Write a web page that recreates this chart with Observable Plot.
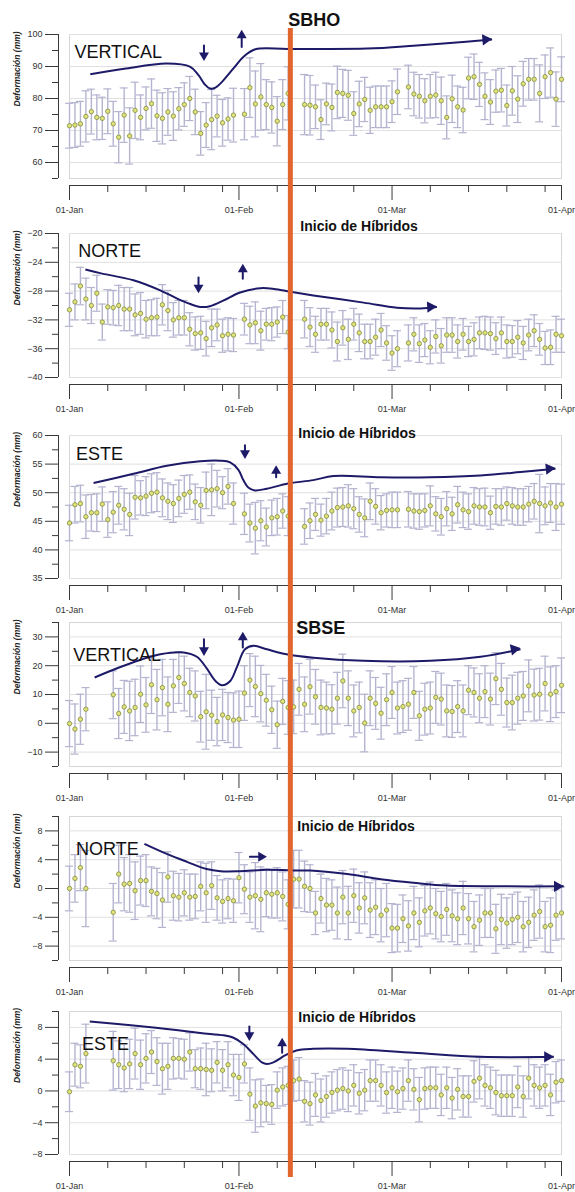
<!DOCTYPE html>
<html><head><meta charset="utf-8">
<script src="https://cdn.jsdelivr.net/npm/d3@7"></script>
<script src="https://cdn.jsdelivr.net/npm/@observablehq/plot@0.6"></script>
<style>
body{margin:0;background:#fff;width:575px;}
#chart svg{display:block;}
</style></head><body><div id="chart"></div>
<script>
// ---------- data ----------
const YEAR = 2019;
const monthTickDays = [0, 31, 59, 90];
const weekTickDays = [7, 14, 21, 28, 38, 45, 52, 66, 73, 80, 87];
const hybridDay = 40.4;
const hybridLabel = "Inicio de Híbridos";
const yTitle = "Deformación (mm)";

const sbhoVerticalValues = [71.5,71.7,72.1,74.4,75.9,74.1,73.8,76.0,72.1,67.9,
 74.8,68.3,76.3,74.1,76.9,78.4,74.6,73.8,75.8,74.5,
 76.8,78.1,80.0,75.8,69.1,71.7,73.4,74.5,72.4,73.6,
 74.8,null,75.1,83.4,78.3,80.5,78.1,77.2,72.9,78.1,
 81.6,null,null,78.1,77.9,77.4,73.4,78.3,77.2,81.9,
 81.6,81.0,75.3,78.3,79.7,76.3,77.4,77.4,77.4,79.0,
 82.1,null,83.6,81.4,80.7,79.3,80.7,81.1,79.3,74.1,
 79.9,77.4,76.4,86.4,86.8,84.4,80.7,78.9,82.3,82.6,
 77.8,82.4,79.8,84.6,86.0,86.0,81.6,86.8,88.1,79.8,
 86.0];
const sbhoVerticalErrors = [7.0,7.0,7.0,8.0,7.0,7.0,6.6,7.0,7.0,8.0,
 8.5,8.8,8.8,7.0,6.7,7.7,8.0,8.0,7.3,7.6,
 6.6,6.8,6.9,7.1,6.8,7.0,9.4,6.5,7.3,6.6,
 8.4,null,8.0,9.3,10.3,10.4,7.8,8.0,7.7,7.8,
 8.3,null,null,9.4,9.3,6.8,6.2,6.5,7.3,8.2,
 7.5,7.8,6.8,7.1,6.9,7.2,6.5,6.5,6.5,6.5,
 7.1,null,6.8,6.8,6.8,6.9,6.8,7.1,7.4,6.7,
 7.4,6.5,7.1,6.5,7.1,6.9,7.3,7.0,6.6,6.8,
 6.4,7.6,7.3,7.0,6.5,6.5,8.9,6.8,7.7,8.5,
 7.0];

const sbhoNorteValues = [-30.6,-29.5,-27.3,-29.1,-30.0,-28.3,-32.3,-30.2,-30.3,-30.0,
 -30.5,-30.5,-31.3,-31.1,-31.9,-31.7,-31.6,-29.9,-30.7,-32.0,
 -31.7,-31.7,-33.3,-33.9,-33.8,-34.6,-33.1,-32.7,-34.2,-34.0,
 -34.1,null,-31.9,-32.7,-32.4,-33.5,-32.6,-32.6,-32.3,-31.6,
 -33.7,null,null,-31.9,-33.0,-34.0,-32.6,-32.6,-33.4,-35.0,
 -33.1,-34.7,-32.6,-33.8,-35.0,-35.0,-34.4,-33.4,-35.2,-36.6,
 -36.0,null,-35.2,-34.0,-35.3,-34.8,-35.8,-34.3,-35.6,-34.1,
 -34.1,-35.0,-34.0,-35.0,-34.7,-33.8,-33.8,-33.9,-34.6,-33.8,
 -35.0,-35.0,-34.4,-35.2,-34.1,-33.5,-34.7,-35.9,-35.8,-34.0,
 -34.2];
const sbhoNorteErrors = [2.3,2.5,2.6,2.9,2.5,2.5,2.5,2.4,2.4,2.8,
 3.0,3.0,2.9,2.9,2.6,2.5,2.6,2.8,2.8,2.4,
 2.4,2.4,2.3,2.3,2.3,2.4,2.6,2.2,2.3,2.3,
 2.3,null,2.2,2.6,2.9,2.7,2.2,2.3,2.1,2.3,
 2.3,null,null,2.6,2.7,2.5,2.2,2.2,2.5,2.7,
 2.4,2.8,2.2,2.6,2.4,2.4,2.5,2.3,2.4,2.4,
 2.5,null,2.5,2.3,2.6,2.3,2.3,2.3,2.4,2.4,
 2.4,2.3,2.2,2.1,2.3,2.2,2.3,2.3,2.2,2.2,
 2.3,2.2,2.3,2.3,2.2,2.2,2.2,2.3,2.4,2.5,
 2.3];

const sbhoEsteValues = [44.7,47.9,48.1,45.8,46.5,46.5,48.0,45.3,46.6,47.8,
 47.1,46.2,49.2,49.1,49.4,49.9,50.1,49.1,48.5,48.1,
 49.0,49.7,50.1,48.4,47.8,50.4,50.5,50.7,50.0,51.1,
 48.1,null,46.3,44.7,43.8,45.1,44.0,45.6,45.8,46.8,
 45.9,null,null,44.1,45.1,46.2,45.2,45.9,46.8,47.4,
 47.5,47.7,47.2,46.2,45.6,48.5,47.6,46.5,46.9,47.0,
 47.0,null,47.1,46.8,46.7,46.9,47.7,46.3,45.8,47.2,
 46.3,47.9,47.0,46.7,47.7,47.5,47.5,46.5,47.6,47.5,
 48.1,47.7,47.5,47.5,48.0,48.5,48.1,47.7,48.2,47.5,
 48.0];
const sbhoEsteErrors = [3.1,3.2,3.2,3.8,3.2,3.3,3.0,3.1,3.6,3.3,
 3.6,3.7,3.8,3.0,3.4,3.4,3.4,3.3,3.2,3.3,
 3.2,3.3,3.0,3.1,3.1,3.2,4.5,3.2,2.8,3.1,
 3.6,null,3.6,3.3,4.5,3.5,3.3,3.1,3.2,3.0,
 3.4,null,null,3.1,3.1,2.8,2.8,3.1,3.3,3.4,
 3.4,3.7,3.5,3.1,3.3,3.2,3.1,3.0,2.9,3.1,
 3.1,null,3.1,3.0,3.1,2.9,3.5,3.0,3.2,3.0,
 2.9,3.2,3.1,3.1,3.2,3.2,3.3,2.9,3.1,3.2,
 2.9,3.2,3.2,3.2,3.1,3.1,5.1,3.3,3.4,4.1,
 3.5];

const sbseVerticalValues = [-0.1,-2.0,1.4,4.9,null,null,null,null,9.9,3.4,
 5.7,4.3,5.5,10.1,6.4,13.4,8.2,12.4,6.6,13.0,
 15.9,13.8,10.7,9.5,2.3,4.0,2.8,0.6,2.9,2.0,
 1.1,1.4,10.5,15.0,12.8,10.3,8.0,4.7,-0.5,7.6,
 5.5,5.7,11.8,6.6,12.7,9.2,5.5,5.3,4.9,8.7,
 14.7,8.7,4.3,5.5,0.1,8.7,6.9,3.5,8.2,10.7,
 5.3,5.8,6.6,10.7,2.6,4.9,5.3,9.0,8.4,4.3,
 4.1,5.8,4.3,11.5,10.7,8.7,11.0,8.4,15.5,11.8,
 7.2,7.2,8.7,9.5,13.0,9.8,10.1,13.8,10.1,11.0,
 13.2];
const sbseVerticalErrors = [8.0,8.7,8.7,7.5,null,null,null,null,8.3,8.7,
 9.2,10.3,9.8,9.8,9.5,10.0,10.5,9.8,9.5,9.2,
 9.0,9.5,8.4,8.7,8.8,13.0,8.7,8.4,8.9,8.7,
 9.5,9.8,9.5,9.2,10.5,9.8,9.0,8.2,8.2,8.0,
 9.3,9.3,9.0,9.5,9.5,9.5,9.5,9.0,8.5,9.0,
 9.3,9.5,9.0,8.8,10.0,9.5,9.0,9.0,9.0,9.0,
 9.0,9.0,9.0,9.0,8.5,9.0,9.0,9.0,9.0,9.0,
 9.0,9.0,9.0,8.5,8.5,8.5,9.0,9.0,9.0,9.0,
 8.5,9.5,9.0,8.5,9.0,9.0,9.0,9.5,9.5,9.0,
 9.5];

const sbseNorteValues = [0.0,1.4,2.9,0.0,null,null,null,null,-3.3,2.0,
 0.6,0.7,-0.3,1.1,1.1,-0.4,-0.7,-1.6,1.6,-1.0,
 -1.2,-0.6,-1.2,-1.1,0.3,-0.6,0.4,-1.3,-1.8,-1.4,
 -1.7,1.5,-0.1,-1.2,-1.0,-1.5,-0.6,-0.8,-0.6,-1.1,
 -2.2,1.3,1.3,0.3,0.0,-3.4,-1.4,-2.3,-2.3,-3.4,
 -1.2,-3.4,-1.0,-2.7,-1.3,-3.0,-2.6,-3.7,-3.0,-5.5,
 -5.5,-4.2,-5.2,-3.4,-4.7,-3.1,-2.7,-3.5,-3.9,-2.9,
 -3.8,-4.2,-2.7,-4.2,-5.3,-4.4,-3.4,-3.4,-5.6,-4.3,
 -4.8,-4.3,-4.0,-5.3,-4.7,-3.7,-3.2,-5.3,-5.1,-3.7,
 -3.4];
const sbseNorteErrors = [3.1,3.3,3.2,5.3,null,null,null,null,4.0,4.0,
 3.7,4.0,4.0,3.4,3.6,3.4,3.5,3.8,3.5,3.4,
 3.3,3.2,3.2,3.1,3.4,4.1,3.3,3.1,3.0,2.8,
 3.0,3.5,3.4,3.5,4.6,4.5,3.3,3.3,3.5,3.4,
 3.4,4.0,4.0,3.5,3.3,3.0,3.4,3.7,3.5,3.6,
 3.7,3.7,3.7,3.5,3.6,3.8,3.8,3.7,3.7,3.4,
 3.3,3.3,3.5,3.7,3.4,3.5,3.6,3.5,3.5,3.6,
 3.6,3.6,3.7,3.5,3.5,3.5,3.4,3.4,3.4,3.5,
 3.5,3.5,3.5,3.5,3.5,3.5,3.7,3.5,3.8,3.5,
 3.6];

const sbseEsteValues = [-0.1,3.3,3.1,4.7,null,null,null,null,3.8,3.3,
 2.9,3.4,4.7,3.3,4.1,4.9,3.7,2.8,3.1,4.1,
 4.1,4.0,4.9,2.8,2.8,2.7,2.6,3.6,2.6,3.3,
 2.0,1.7,3.4,-0.4,-1.9,-1.5,-1.6,-1.7,0.1,0.5,
 0.7,1.3,1.5,-1.3,-1.6,-0.5,-1.2,-0.7,-0.2,0.1,
 0.3,0.0,0.7,-0.3,0.1,1.3,1.3,0.7,-0.2,0.4,
 -0.1,0.3,1.3,0.2,-1.1,0.3,0.4,0.4,-0.5,0.4,
 -0.9,0.2,-0.7,-0.7,1.2,1.6,0.7,0.4,-0.2,-0.6,
 -0.6,-0.6,0.5,-0.7,1.6,0.7,0.4,0.7,-0.5,1.1,
 1.3];
const sbseEsteErrors = [2.5,2.7,2.7,3.7,null,null,null,null,3.7,3.0,
 3.0,3.1,3.2,3.1,3.1,2.7,3.0,3.2,2.9,2.6,
 2.5,2.5,2.4,2.4,2.6,3.3,2.7,2.6,2.6,2.9,
 2.6,2.9,2.4,3.3,3.3,3.0,2.3,2.5,2.3,2.4,
 2.4,2.6,2.7,2.6,2.7,2.7,2.7,2.6,2.6,2.6,
 2.6,2.6,2.6,2.6,2.6,2.6,2.6,2.6,2.6,2.6,
 2.6,2.6,2.6,2.6,2.8,2.6,2.6,2.6,2.6,2.6,
 2.6,2.6,2.6,2.6,2.6,2.6,2.6,2.6,2.8,2.6,
 2.6,2.6,2.6,2.6,2.6,2.6,2.6,2.6,2.6,2.6,
 2.6];

// hand-drawn trend curves: [day, value]
const sbhoVerticalTrend = [[3.8,87.6],[10,89.3],[17.8,90.9],[22.1,89.9],[23.6,87.3],[24.8,84.3],[25.7,83.1],[26.7,83.4],[27.9,85.2],[30,89.4],[31.8,93.0],[34,95.4],[40,95.5],[54.4,95.6],[62.9,96.5],[69,97.3],[77.3,98.4]];
const sbhoNorteTrend = [[2.9,-25.0],[5.6,-25.5],[11.7,-26.5],[16.6,-27.9],[19.6,-29.0],[22.1,-29.8],[23.9,-30.2],[25.7,-30.1],[28.2,-29.3],[31.2,-28.2],[34.9,-27.6],[37.4,-27.7],[40.4,-28.1],[44.6,-28.6],[53.8,-29.6],[59.9,-30.3],[64.2,-30.4],[67.2,-30.2]];
const sbhoEsteTrend = [[4.4,51.7],[11.7,53.3],[17.8,54.7],[23.9,55.5],[27.6,55.6],[29.4,55.3],[30.9,54.0],[31.8,52.2],[32.7,50.9],[33.9,50.4],[36.1,50.7],[40,51.6],[44.6,52.2],[48.3,52.9],[56.9,52.7],[66,52.7],[75.2,53.0],[82.5,53.6],[88.9,54.2]];
const sbseVerticalTrend = [[4.6,15.9],[8.7,19.1],[12.9,22.0],[16.6,24.0],[20.9,24.6],[23.3,23.1],[25.1,19.1],[26.7,14.7],[27.9,13.2],[29.4,14.7],[30.6,19.4],[32.1,25.7],[33.7,26.9],[36.1,25.7],[39.7,24.0],[44.6,22.8],[53.8,21.7],[66,21.7],[75.2,23.1],[82.5,25.7]];
const sbseNorteTrend = [[13.7,6.2],[17.8,4.8],[21.5,3.7],[25.1,2.7],[27.6,2.4],[31.2,2.4],[36.1,2.6],[42,2.5],[44,2.5],[50.8,2.0],[56.9,1.3],[62.9,0.8],[69,0.4],[80,0.3],[90.4,0.3]];
const sbseEsteTrend = [[3.7,8.75],[11.7,8.25],[17.8,7.8],[23.9,7.3],[28.2,7.0],[30,6.7],[31.8,5.9],[33.7,4.6],[35.2,3.6],[36.1,3.4],[37.3,3.6],[39.5,4.5],[41.5,5.1],[44.6,5.3],[50.8,5.3],[62.9,4.8],[75.2,4.3],[88.6,4.3]];

// small marker arrows: [day, from value, tip value]
const sbhoVerticalDown = [[24.6, 96.6, 91.7]], sbhoVerticalUp = [[31.5, 96.1, 101.5]];
const sbhoNorteDown = [[23.6, -26.1, -28.3]], sbhoNorteUp = [[31.7, -26.3, -24.2]];
const sbhoEsteDown = [[32.1, 58.3, 55.9]], sbhoEsteUp = [[37.8, 52.7, 54.8]];
const sbseVerticalDown = [[24.6, 29.2, 23.4]], sbseVerticalUp = [[31.7, 26.3, 31.8]];
const sbseNorteRight = [[4.4, 33, 36.1]]; // [value, from day, tip day]
const sbseEsteDown = [[32.9, 8.1, 6.3]], sbseEsteUp = [[38.9, 4.8, 6.7]];

// ---------- drawing ----------
const dayDate = d => new Date(Date.UTC(YEAR, 0, 1) + d * 864e5);
const fmt = d3.utcFormat("%d-%b");
const NAVY = "#1d1a68";
const ORANGE = "#e0662e";

const panels = [
  {name: "VERTICAL", nameAt: [0.9, 92.8], values: sbhoVerticalValues, errors: sbhoVerticalErrors,
   domain: [55, 100], major: [60,70,80,90,100], minor: [55,65,75,85,95],
   trend: sbhoVerticalTrend, headRotate: 85, down: sbhoVerticalDown, up: sbhoVerticalUp,
   height: 218, mt: 34, mb: 40, ruleTop: -6, ruleBottom: -40,
   title: {text: "SBHO", y: 100, dx: -2, dy: -9, size: 18}},
  {name: "NORTE", nameAt: [1.6, -23.3], values: sbhoNorteValues, errors: sbhoNorteErrors,
   domain: [-40, -20], major: [-40,-36,-32,-28,-24,-20], minor: [-38,-34,-30,-26,-22],
   trend: sbhoNorteTrend, headRotate: 87, down: sbhoNorteDown, up: sbhoNorteUp,
   height: 202, mt: 15, mb: 43, ruleTop: -15, ruleBottom: -43,
   title: {text: hybridLabel, y: -20, dx: 10, dy: -3, size: 14}},
  {name: "ESTE", nameAt: [1.2, 55.8], values: sbhoEsteValues, errors: sbhoEsteErrors,
   domain: [35, 60], major: [35,40,45,50,55,60], minor: [37.5,42.5,47.5,52.5,57.5],
   trend: sbhoEsteTrend, headRotate: 84, down: sbhoEsteDown, up: sbhoEsteUp,
   height: 192, mt: 15, mb: 34, ruleTop: -15, ruleBottom: -34,
   title: {text: hybridLabel, y: 60, dx: 8, dy: 2, size: 14}},
  {name: "VERTICAL", nameAt: [0.7, 21.6], values: sbseVerticalValues, errors: sbseVerticalErrors,
   domain: [-15, 35], major: [-10,0,10,20,30], minor: [-15,-5,5,15,25,35],
   trend: sbseVerticalTrend, headRotate: 79, down: sbseVerticalDown, up: sbseVerticalUp,
   height: 194, mt: 10, mb: 40, ruleTop: -10, ruleBottom: -40,
   title: {text: "SBSE", y: 35, dx: 6, dy: 11, size: 18}},
  {name: "NORTE", nameAt: [1.2, 4.7], values: sbseNorteValues, errors: sbseNorteErrors,
   domain: [-10, 10], major: [-8,-4,0,4,8], minor: [-10,-6,-2,2,6,10],
   trend: sbseNorteTrend, headRotate: 90, down: [], up: [], right: sbseNorteRight,
   height: 194, mt: 10, mb: 40, ruleTop: -10, ruleBottom: -40,
   title: {text: hybridLabel, y: 10, dx: 7, dy: 14, size: 14}},
  {name: "ESTE", nameAt: [2.3, 5.1], values: sbseEsteValues, errors: sbseEsteErrors,
   domain: [-8, 10], major: [-8,-4,0,4,8], minor: [-6,-2,2,6,10],
   trend: sbseEsteTrend, headRotate: 90, down: sbseEsteDown, up: sbseEsteUp,
   height: 192, mt: 11, mb: 38, ruleTop: -11, ruleBottom: -23,
   title: {text: hybridLabel, y: 10, dx: 8, dy: 10, size: 14}}
];

const monthDates = monthTickDays.map(dayDate);
const weekDates = weekTickDays.map(dayDate);
const hybridDate = dayDate(hybridDay);

function drawPanel(p) {
  const pts = p.values.map((v, i) => ({date: dayDate(i), v, e: p.errors[i] ?? 0})).filter(d => d.v != null);
  const [y0, y1] = p.domain;
  const trend = p.trend.map(([d, v]) => ({date: dayDate(d), v}));
  const tip = trend[trend.length - 1];
  const downs = p.down.map(([d, a, b]) => ({date: dayDate(d), a, b}));
  const ups = p.up.map(([d, a, b]) => ({date: dayDate(d), a, b}));
  const rights = (p.right || []).map(([v, a, b]) => ({v, a: dayDate(a), b: dayDate(b)}));
  const ax = {stroke: "#3a3a3a", label: null};
  return Plot.plot({
    width: 575, height: p.height,
    marginTop: p.mt, marginBottom: p.mb, marginLeft: 69, marginRight: 14,
    style: {background: "transparent", overflow: "visible", fontFamily: "'Liberation Sans', Arial, sans-serif", fontSize: "9px", color: "#333"},
    x: {type: "utc", domain: [dayDate(0), dayDate(90)]},
    y: {domain: p.domain},
    marks: [
      Plot.frame({stroke: "#d6d6d6"}),
      Plot.gridY(p.major, {stroke: "#e0e0e0", strokeOpacity: 1}),
      // y axis (offset to the left)
      Plot.ruleX([dayDate(0)], {y1: y0, y2: y1, dx: -11, stroke: "#3a3a3a"}),
      Plot.axisY(p.major, {...ax, tickSize: 13, dx: -11, tickPadding: 3, fill: "#333"}),
      Plot.axisY(p.minor, {...ax, tickSize: 6, dx: -11, tickFormat: () => ""}),
      // x axis (offset below)
      Plot.ruleY([y0], {x1: dayDate(0), x2: dayDate(90), dy: 7, stroke: "#3a3a3a"}),
      Plot.axisX(monthDates, {...ax, tickSize: 15, dy: 7, tickPadding: 6, tickFormat: fmt, fill: "#333"}),
      Plot.axisX(weekDates, {...ax, tickSize: 7, dy: 7, tickFormat: () => ""}),
      Plot.text([yTitle], {frameAnchor: "left", rotate: -90, dx: -52, fontSize: 8.5, fontStyle: "italic", fontWeight: "bold", fill: "#222"}),
      // error bars
      Plot.ruleX(pts, {x: "date", y1: d => d.v - d.e, y2: d => d.v + d.e, stroke: "#b4b4d0", strokeWidth: 1.4}),
      Plot.ruleY(pts, {y: d => d.v + d.e, x1: "date", x2: "date", insetLeft: -4, insetRight: -4, stroke: "#b4b4d0", strokeWidth: 1.2}),
      Plot.ruleY(pts, {y: d => d.v - d.e, x1: "date", x2: "date", insetLeft: -4, insetRight: -4, stroke: "#b4b4d0", strokeWidth: 1.2}),
      Plot.dot(pts, {x: "date", y: "v", r: 2.2, fill: "#e2e27c", stroke: "#7f8c3c", strokeWidth: 0.8}),
      // trend curve with arrow head
      Plot.line(trend, {x: "date", y: "v", curve: "catmull-rom", stroke: NAVY, strokeWidth: 2, strokeLinecap: "butt"}),
      Plot.dot([tip], {x: "date", y: "v", symbol: "triangle", r: 4.2, rotate: p.headRotate, dx: -6.4, fill: NAVY, stroke: "none"}),
      // small arrows
      Plot.arrow(downs, {x1: "date", x2: "date", y1: "a", y2: "b", headLength: 0, insetEnd: 6, stroke: NAVY, strokeWidth: 2}),
      Plot.dot(downs, {x: "date", y: "b", symbol: "triangle", r: 3.7, rotate: 180, dy: -5.7, fill: NAVY, stroke: "none"}),
      Plot.arrow(ups, {x1: "date", x2: "date", y1: "a", y2: "b", headLength: 0, insetEnd: 6, stroke: NAVY, strokeWidth: 2}),
      Plot.dot(ups, {x: "date", y: "b", symbol: "triangle", r: 3.7, rotate: 0, dy: 5.7, fill: NAVY, stroke: "none"}),
      Plot.arrow(rights, {x1: "a", x2: "b", y1: "v", y2: "v", headLength: 0, insetEnd: 6, stroke: NAVY, strokeWidth: 2}),
      Plot.dot(rights, {x: "b", y: "v", symbol: "triangle", r: 3.7, rotate: 90, dx: -5.7, fill: NAVY, stroke: "none"}),
      // panel name
      Plot.text([p.name], {x: () => dayDate(p.nameAt[0]), y: () => p.nameAt[1], textAnchor: "start", lineAnchor: "bottom", fontSize: 18, fill: "#111"}),
      // hybrid start line
      Plot.ruleX([hybridDate], {stroke: ORANGE, strokeWidth: 5, insetTop: p.ruleTop, insetBottom: p.ruleBottom}),
      Plot.text([p.title.text], {x: () => hybridDate, y: () => p.title.y, dx: p.title.dx, dy: p.title.dy, textAnchor: "start", lineAnchor: "bottom", fontSize: p.title.size, fontWeight: "bold", fill: "#111"})
    ]
  });
}

const chart = document.getElementById("chart");
for (const p of panels) chart.appendChild(drawPanel(p));
</script>
</body></html>
